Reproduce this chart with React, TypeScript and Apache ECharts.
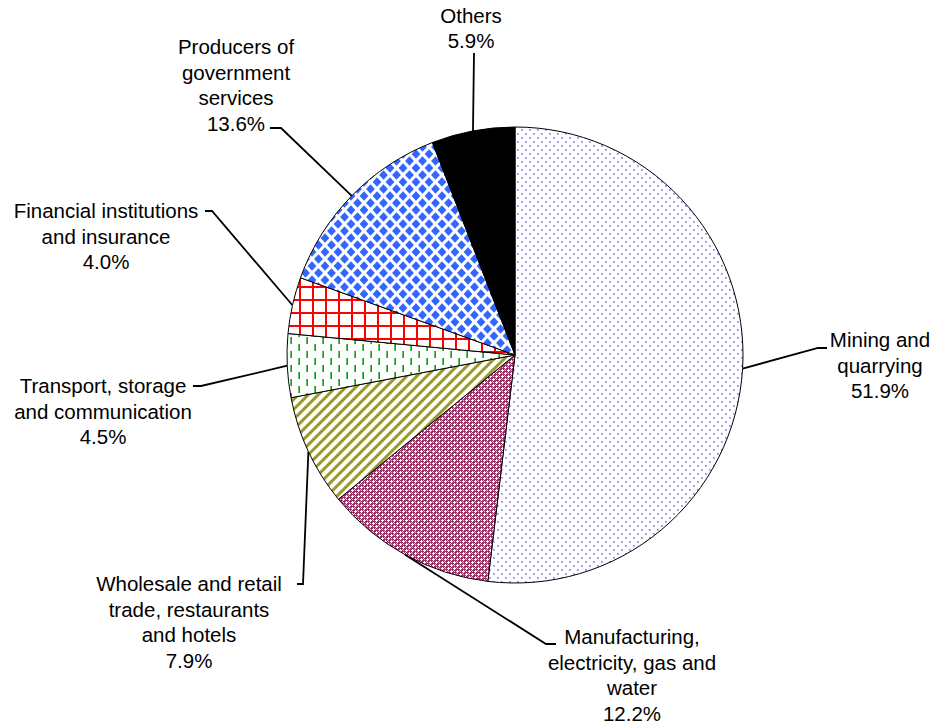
import { useEffect, useRef } from 'react';
import * as echarts from 'echarts';

// ---- data ----
const categories = [
  'Mining and\nquarrying',
  'Manufacturing,\nelectricity, gas and\nwater',
  'Wholesale and retail\ntrade, restaurants\nand hotels',
  'Transport, storage\nand communication',
  'Financial institutions\nand insurance',
  'Producers of\ngovernment\nservices',
  'Others',
];
const shares = [51.9, 12.2, 7.9, 4.5, 4.0, 13.6, 5.9];

// ---- label layout (text centre, leader-line elbow, leader-line end) ----
const labelCenters: number[][] = [
  [880, 365], [632, 675], [189, 622], [103, 411], [106, 236], [236, 85], [471, 28],
];
const lineElbows: number[][] = [
  [818, 348], [546, 644], [303, 584], [201, 386], [212, 211], [281, 128], [474, 53],
];
const lineEnds: number[][] = [
  [827, 348], [556, 644], [297, 584], [193, 386], [205, 211], [270, 128], [474, 53],
];

function tile(w: number, h: number, draw: (ctx: CanvasRenderingContext2D) => void) {
  const c = document.createElement('canvas');
  c.width = w;
  c.height = h;
  const ctx = c.getContext('2d')!;
  ctx.fillStyle = '#ffffff';
  ctx.fillRect(0, 0, w, h);
  draw(ctx);
  return { image: c.toDataURL(), repeat: 'repeat', imageWidth: w, imageHeight: h };
}

function makeFills() {
  const mining = tile(8, 8, (ctx) => {
    ctx.fillStyle = '#b0b0ff';
    ctx.fillRect(1, 1, 2, 2);
    ctx.fillRect(5, 5, 2, 2);
    ctx.fillStyle = '#8080ff';
    ctx.fillRect(1, 1, 1, 1);
    ctx.fillRect(5, 5, 1, 1);
  });
  const manuf = tile(6, 6, (ctx) => {
    ctx.fillStyle = '#993366';
    ctx.fillRect(0, 0, 6, 6);
    const white = [[1, 0], [0, 1], [1, 1], [2, 1], [1, 2], [4, 3], [3, 4], [4, 4], [5, 4], [4, 5]];
    ctx.fillStyle = '#ffffff';
    white.forEach(([x, y]) => ctx.fillRect(x, y, 1, 1));
    const pink = [[4, 1], [1, 4], [3, 0], [0, 3]];
    ctx.fillStyle = '#e2bcd0';
    pink.forEach(([x, y]) => ctx.fillRect(x, y, 1, 1));
  });
  const wholesale = tile(10, 10, (ctx) => {
    for (let x = 0; x < 10; x++)
      for (let y = 0; y < 10; y++) {
        const k = (x + y) % 10;
        if (k < 5) {
          ctx.fillStyle = k === 0 || k === 4 ? '#c2c27a' : '#999933';
          ctx.fillRect(x, y, 1, 1);
        }
      }
  });
  const transport = tile(16, 14, (ctx) => {
    ctx.fillStyle = '#5cc05c';
    ctx.fillRect(2, 1, 1, 7);
    ctx.fillRect(10, 8, 1, 6);
    ctx.fillRect(10, 0, 1, 1);
    ctx.fillStyle = '#229922';
    ctx.fillRect(3, 1, 1, 7);
    ctx.fillRect(11, 8, 1, 6);
    ctx.fillRect(11, 0, 1, 1);
  });
  const financial = tile(13, 13, (ctx) => {
    ctx.fillStyle = '#ff0000';
    ctx.fillRect(0, 0, 2, 13);
    ctx.fillRect(0, 0, 13, 2);
  });
  const producers = tile(13, 14, (ctx) => {
    ctx.fillStyle = '#3366ff';
    const diamond = (cx: number, cy: number) => {
      const a = 4.4;
      const b = 4.8;
      ctx.beginPath();
      ctx.moveTo(cx - a, cy);
      ctx.lineTo(cx, cy - b);
      ctx.lineTo(cx + a, cy);
      ctx.lineTo(cx, cy + b);
      ctx.closePath();
      ctx.fill();
    };
    diamond(0, 0);
    diamond(13, 0);
    diamond(0, 14);
    diamond(13, 14);
    diamond(6.5, 7);
  });
  return [mining, manuf, wholesale, transport, financial, producers, '#000000'];
}

export default function App() {
  const ref = useRef<HTMLDivElement>(null);
  useEffect(() => {
    const chart = echarts.init(ref.current!, null, { renderer: 'svg' });
    const fills = makeFills();
    chart.setOption({
      animation: false,
      series: [
        {
          type: 'pie',
          center: [515, 355],
          radius: 228,
          startAngle: 90,
          clockwise: true,
          avoidLabelOverlap: false,
          emphasis: { disabled: true },
          data: categories.map((n, i) => ({
            name: n,
            value: shares[i],
            itemStyle: { color: fills[i] },
          })),
          itemStyle: { borderColor: '#000000', borderWidth: 1 },
          label: {
            show: true,
            position: 'outer',
            formatter: (p: any) => p.name + '\n' + Number(p.value).toFixed(1) + '%',
            fontFamily: '"Liberation Sans", Arial, sans-serif',
            fontSize: 20.5,
            lineHeight: 25.5,
            color: '#000000',
            align: 'center',
          },
          labelLine: {
            show: true,
            length: 20,
            length2: 10,
            smooth: false,
            lineStyle: { color: '#000000', width: 1.8 },
          },
          labelLayout: (params: any) => {
            const i = params.dataIndex;
            const p0 = params.labelLinePoints ? params.labelLinePoints[0] : lineElbows[i];
            return {
              x: labelCenters[i][0],
              y: labelCenters[i][1],
              align: 'center',
              verticalAlign: 'middle',
              labelLinePoints: [p0, lineElbows[i], lineEnds[i]],
            };
          },
        },
      ],
    });
    return () => chart.dispose();
  }, []);
  return (
    <div
      ref={ref}
      style={{ position: 'absolute', left: 0, top: 0, width: 936, height: 727, background: '#ffffff' }}
    />
  );
}
